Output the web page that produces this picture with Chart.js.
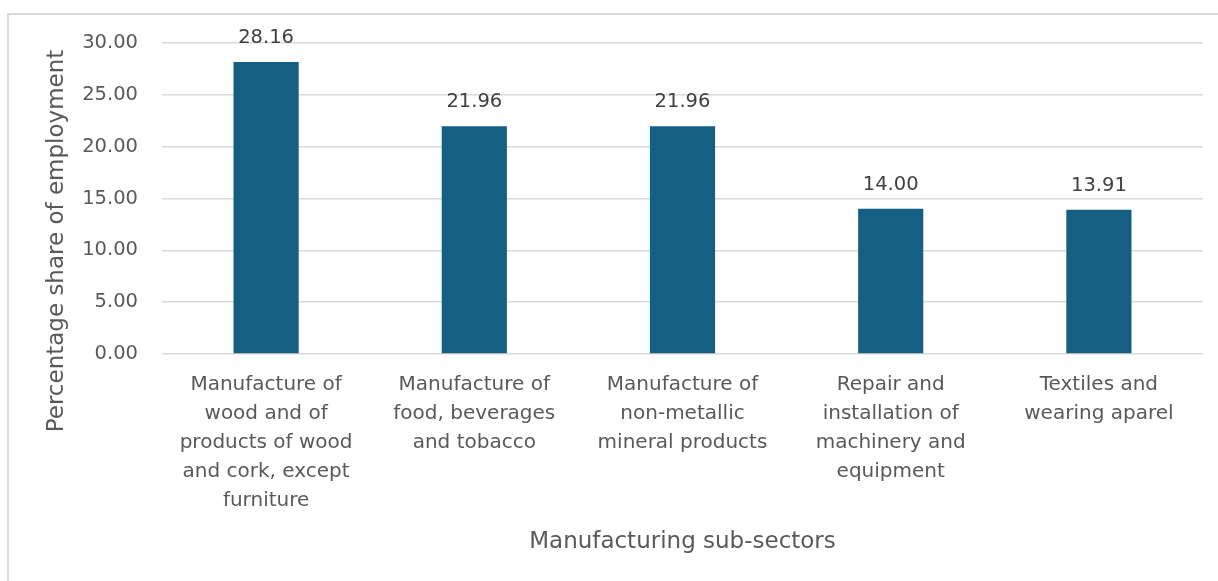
<!DOCTYPE html>
<html>
<head>
<meta charset="utf-8">
<script src="https://cdn.jsdelivr.net/npm/chart.js@4/dist/chart.umd.min.js"></script>
<style>
  html, body { margin: 0; padding: 0; background: #fff; overflow: hidden; }
  #wrap { position: relative; width: 1218px; height: 581px; }
  #frame { position: absolute; left: 7px; top: 13px; width: 1300px; height: 700px; border: 2px solid #dadada; box-sizing: border-box; }
  #chart { position: absolute; left: 0; top: 0; }
</style>
</head>
<body>
<div id="wrap">
  <div id="frame"></div>
  <canvas id="chart" width="1218" height="581"></canvas>
</div>
<script>
// employment share by manufacturing sub-sector (%)
const sectors = [
  ['Manufacture of', 'wood and of', 'products of wood', 'and cork, except', 'furniture'],
  ['Manufacture of', 'food, beverages', 'and tobacco'],
  ['Manufacture of', 'non-metallic', 'mineral products'],
  ['Repair and', 'installation of', 'machinery and', 'equipment'],
  ['Textiles and', 'wearing aparel']
]
const shares = [28.16, 21.96, 21.96, 14.00, 13.91]
const yTicks = [0, 5, 10, 15, 20, 25, 30]
const yTitle = 'Percentage share of employment'

const FONT = "'DejaVu Sans', sans-serif"
const TEXT = '#595959'

// value labels above each bar, plus the y title centred on the whole chart height
const barLabels = {
    id: 'barLabels',
    afterDatasetsDraw(chart) {
        const ctx = chart.ctx
        const meta = chart.getDatasetMeta(0)
        ctx.save()
        ctx.font = '19.5px ' + FONT
        ctx.fillStyle = '#404040'
        ctx.textAlign = 'center'
        ctx.textBaseline = 'alphabetic'
        meta.data.forEach(function(bar, i){
            ctx.fillText(shares[i].toFixed(2), bar.x, bar.y - 19)
        })
        ctx.restore()
    },
    afterDraw(chart) {
        const ctx = chart.ctx
        ctx.save()
        ctx.translate(57, 241)
        ctx.rotate(-Math.PI / 2)
        ctx.font = '23px ' + FONT
        ctx.fillStyle = TEXT
        ctx.textAlign = 'center'
        ctx.textBaseline = 'middle'
        ctx.fillText(yTitle, 0, 0)
        ctx.restore()
    }
}

const ctx = document.getElementById('chart').getContext('2d')
new Chart(ctx, {
    type: 'bar',
    data: {
        labels: sectors,
        datasets: [{
            data: shares,
            backgroundColor: '#156082',
            borderWidth: 0,
            categoryPercentage: 1,
            barPercentage: 0.313
        }]
    },
    options: {
        responsive: false,
        animation: false,
        layout: { padding: { top: 43, right: 15, left: 0, bottom: 0 } },
        plugins: {
            legend: { display: false },
            tooltip: { enabled: false }
        },
        scales: {
            x: {
                grid: { display: false, drawTicks: false },
                border: { display: false },
                ticks: {
                    color: TEXT,
                    padding: 16,
                    maxRotation: 0,
                    autoSkip: false,
                    font: { family: FONT, size: 20, lineHeight: 1.45 }
                },
                title: {
                    display: true,
                    text: 'Manufacturing sub-sectors',
                    color: TEXT,
                    font: { family: FONT, size: 23, lineHeight: 1.2 },
                    padding: { top: 0, bottom: 25 }
                },
                afterFit(scale) { scale.height = 227 }
            },
            y: {
                min: 0,
                max: 30,
                afterBuildTicks(scale) { scale.ticks = yTicks.map(v => ({ value: v })) },
                grid: { color: '#d9d9d9', lineWidth: 1.5, drawTicks: false },
                border: { display: false },
                ticks: {
                    color: TEXT,
                    padding: 24,
                    font: { family: FONT, size: 19.5 },
                    callback: v => Number(v).toFixed(2)
                },
                afterFit(scale) { scale.width = 162 }
            }
        }
    },
    plugins: [barLabels]
})
</script>
</body>
</html>
